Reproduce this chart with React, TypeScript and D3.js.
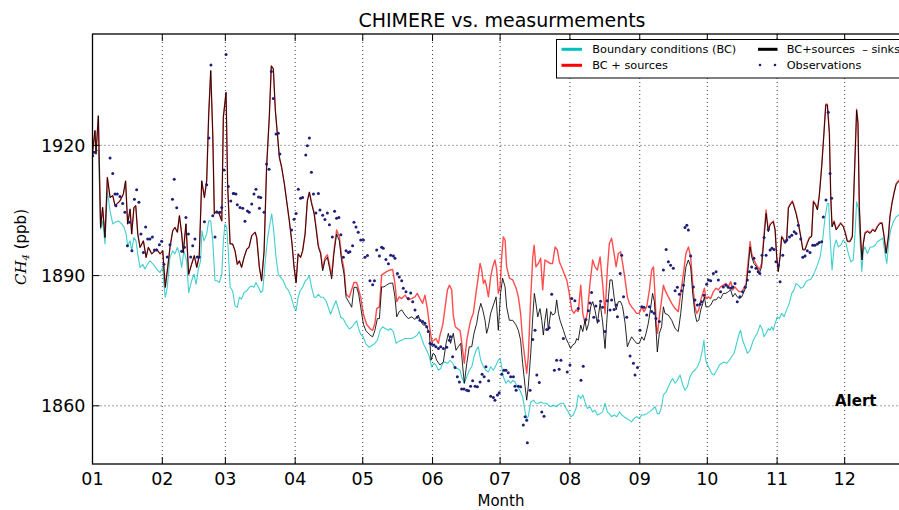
import React from "react";
import * as d3 from "d3";

type Pt = [number, number];

// day-of-year of each month start, and its label
const monthStarts = [0, 31, 59, 90, 120, 151, 181, 212, 243, 273, 304, 334];
const monthLabels = ["01", "02", "03", "04", "05", "06", "07", "08", "09", "10", "11", "12"];
const yTicks = [1860, 1890, 1920];

// Boundary conditions (BC)
const bcSeries: Pt[] = [
  [0,1917.6],[1.1,1918.5],[2.6,1919],[3.6,1900.7],[4.5,1902.6],[5.55,1897.3],[6.6,1909.5],[7.8,1904.9],[9,1901.9],[10,1902.3],[11.5,1902.6],[13,1901.9],[14,1901.1],[14.9,1899.6],[15.6,1896.9],[16.7,1898],[17.4,1895.7],[18.4,1898.8],[19.3,1898],[20.1,1895],[21.1,1891.9],[22.3,1892.6],[23.3,1891.5],[24.4,1892.6],[25.5,1893.4],[27,1892.6],[28.5,1891.5],[30,1890.7],[31.2,1891.9],[31.7,1888],[32.3,1885],[33.2,1887.3],[34.4,1894.2],[35.6,1895.7],[36.6,1895],[37.7,1896.5],[38.6,1895],[39.6,1891.9],[40.6,1895.7],[41.8,1893.4],[42.7,1886.1],[44,1888.8],[45.1,1890.3],[46,1888],[47,1891.5],[48,1893.4],[48.6,1900.3],[49.5,1898],[50.7,1899.6],[51.6,1902.6],[52.5,1902.6],[53.4,1898],[54.4,1888.8],[55.4,1888.8],[56.3,1888.4],[57.4,1890.3],[58.1,1898],[58.8,1901.9],[59.6,1901.1],[60.3,1895.7],[61.1,1887.3],
  [62.2,1886.5],[63.3,1883],[64.3,1882.7],[65.2,1885],[66.2,1884.6],[67.3,1886.1],[68.5,1886.5],[69.6,1887.3],[70.7,1887.6],[71.7,1887.3],[72.6,1888.4],[73.7,1887.3],[74.7,1886.1],[75.6,1886.5],[76.6,1892.6],[77.6,1898],[78.5,1901.1],[79.6,1904.2],[80.6,1899.6],[81.5,1894.2],[82.5,1890.3],[83.6,1889.6],[84.7,1888.8],[85.9,1887.3],[87.1,1886.5],[88.3,1885],[89.5,1882.7],[90.4,1881.9],[91.3,1885],[92.2,1886.5],[93.3,1887.3],[94.5,1888.8],[95.4,1889.2],[96.3,1890],[97.3,1887.3],[98.4,1885],[99.2,1885],[100.3,1885.7],[101.3,1885],[102.5,1885],[103.7,1884.2],[104.7,1882.7],[105.7,1881.1],[106.9,1882.7],[108.1,1884.2],[109.2,1882.3],[110.2,1880.4],[111.4,1880],[112.6,1878.8],[114,1877.7],[115.1,1878.1],[116.1,1878.8],[117.3,1879.6],[118.2,1877.7],[119.1,1876.5],[120.3,1875.8],[121.4,1874.2],[122.9,1873.5],
  [123.2,1873.6],[124.4,1874],[125.4,1874.4],[126.5,1875.1],[127.7,1877.4],[128.8,1878.2],[129.9,1877.8],[131.4,1877.4],[132.4,1877.8],[133.6,1877.1],[134.8,1874.4],[135.8,1874.8],[137.3,1875.1],[138.8,1875.5],[140.2,1875.5],[141.7,1875.5],[143.2,1875.9],[144.2,1876.3],[145.1,1877.1],[146.2,1875.5],[147.2,1874],[148.4,1872.8],[149.6,1871.3],[150.6,1869],[151.6,1869.8],[152.5,1869.4],[153.6,1868.2],[154.6,1868.6],[155.5,1869.8],[156.5,1870.1],[157.6,1869.8],[158.8,1870.5],[160,1869.8],[161,1868.6],[162,1868.6],[163.2,1868.2],[163.9,1866.7],[165.1,1865.2],[166.2,1866.7],[167.3,1868.2],[168.4,1869],[169.4,1871.3],[170.3,1872.8],[171.3,1873.6],[172.4,1870.5],[173.6,1869],[174.7,1868.2],[175.8,1867.8],[176.8,1869],[178,1868.2],[179.2,1869.4],[180.2,1870.5],[181,1870.9],[181.7,1869],[182.4,1866.7],[183.6,1865.2],[184.6,1865.9],[185.7,1865.2],[186.6,1865.9],[187.6,1865.5],
  [188.6,1864.4],[189.8,1863.6],[191,1862.1],[192.1,1858.6],[192.8,1857.1],[193.5,1857.5],[194.6,1860.9],[195.8,1861.3],[196.9,1860.6],[198,1860.6],[199,1860.9],[200.2,1860.6],[201.4,1860.6],[202.4,1860.2],[203.5,1859.8],[204.6,1860.2],[205.8,1859.8],[206.9,1860.2],[207.9,1860.6],[209.1,1860.6],[210.3,1859.4],[211.3,1858.6],[212.3,1857.5],[213.5,1857.9],[214.7,1859.4],[215.7,1862.5],[216.8,1861.7],[217.7,1862.5],[218.7,1860.9],[219.7,1859.4],[220.9,1859.8],[222.1,1858.6],[223.1,1859],[224.2,1857.9],[225.4,1858.2],[226.5,1858.6],[227.6,1860.6],[228.6,1858.6],[229.5,1858.2],[230.5,1857.5],[231.6,1857.9],[232.8,1857.5],[234,1858.6],[235,1857.9],[236,1857.5],[237.2,1857.1],[238.4,1856.7],[239.4,1856.3],[240.5,1857.1],[241.6,1857.5],[242.8,1857.1],[243.9,1857.9],[244.9,1857.9],[246.1,1858.2],[247.3,1858.6],[248.3,1859],[249.8,1859.8],
  [250.8,1858.2],[251.7,1858.2],[252.7,1859.8],[253.5,1862.5],[254.7,1863.2],[255.7,1864.4],[256.7,1865.5],[257.6,1866.3],[258.7,1865.2],[259.7,1865.9],[260.9,1867.1],[262.1,1864.8],[263.1,1863.6],[264.2,1864.4],[265.3,1866.7],[266.5,1867.8],[267.5,1868.2],[268.6,1869],[269.8,1870.5],[270.8,1872.8],[271.5,1875.1],[272.1,1871.3],[272.7,1869.8],[273.9,1868.6],[274.9,1867.5],[276,1867.1],[277.2,1868.2],[278.4,1869.4],[279.4,1869.8],[280.4,1870.1],[281.6,1869.8],[282.8,1870.5],[283.8,1871.3],[284.9,1872.1],[286,1874.4],[287.2,1876.7],[287.8,1877.4],[288.7,1875.1],[289.8,1873.6],[290.8,1872.1],[292,1872.8],[293.2,1874.8],[294.2,1875.9],[295.2,1876.7],[296.4,1878.6],[297.3,1877.8],[298.2,1875.9],[299.1,1876.7],[300.1,1877.8],
  [300.8,1877.4],[301.6,1878.2],[302.3,1877.4],[303.1,1879],[304.1,1880.5],[305,1880.1],[306,1881.3],[307.1,1880.5],[308.2,1882.1],[309.4,1883.6],[310.5,1885.9],[311.5,1886.7],[312.4,1888.2],[313.4,1887.8],[314.5,1887.1],[315.6,1887.4],[316.8,1888.6],[317.9,1889],[318.9,1889.1],[320.1,1890.1],[321.6,1892],[323.1,1894.3],[324.2,1898.2],[325.3,1903.5],[326.3,1906.6],[326.9,1906.6],[327.5,1898.9],[328.4,1891.3],[329.3,1896.6],[330.2,1898.2],[331.2,1896.6],[332.2,1897],[333.4,1898.2],[334.6,1897.4],[335.6,1895.1],[336.7,1893.2],[337.8,1893.6],[338.6,1899.7],[339.3,1907],[340.1,1905.5],[340.8,1898.2],[341.6,1890.9],[342.3,1895.9],[343,1896.6],[344.1,1895.1],[345.3,1896.6],[346.4,1896.6],[347.5,1897],[348.5,1897.8],[349.7,1898.2],[350.9,1898.6],[351.9,1895.1],[352.7,1892.8],[353.5,1897.4],[354.4,1900.5],[355.6,1902.4],[356.8,1903.5],[357.8,1903.9],[359,1904.2],[362,1904.5],
];

// BC + sources
const srcSeries: Pt[] = [
  [0,1918.4],[1.1,1923.4],[1.55,1918],[2.6,1926.8],[3.6,1901.1],[4.5,1905.7],[5.55,1898.8],[6.6,1912.6],[7.8,1908],[9,1908.4],[10,1906.1],[12.2,1907.2],[13.7,1908.8],[14.7,1911.8],[15.6,1901.9],[16.7,1905.3],[17.4,1899.6],[18.4,1905.7],[19.2,1906.1],[20.1,1899.6],[21.1,1896.5],[22.6,1898],[23.8,1894.2],[24.8,1896.5],[26.3,1895],[28.5,1896.1],[30,1895],[31.2,1895.7],[32.3,1887.3],[33.4,1891.9],[34.4,1896.5],[35.6,1900.3],[36.6,1901.1],[37.7,1900],[38.6,1903.8],[39.6,1899.6],[40.3,1895.3],[41.5,1901.9],[42.7,1890.3],[44,1892.6],[45.2,1894.6],[46.3,1891.9],[47.4,1894.6],[48.5,1911.8],[49.7,1908],[50.7,1911.8],[51.6,1927.2],[52.5,1937.2],[53.4,1922.6],[54.1,1904.2],[55.1,1904.9],[56.3,1904.2],[57.4,1902.6],[58.1,1926.5],[59.3,1932.2],[60,1911.1],[61.1,1897.3],
  [62.2,1897.3],[63.3,1895.7],[64.3,1892.6],[65.2,1893.4],[66.2,1891.9],[67.3,1894.2],[68.5,1896.1],[69.5,1896.5],[70.7,1899.2],[72.2,1900],[72.9,1898.8],[74.1,1891.9],[75.1,1888.8],[76.2,1895.7],[77.3,1914.9],[78.5,1926.5],[79.4,1938.3],[80.3,1937.6],[81.2,1928],[82.1,1922.6],[83,1917.2],[84,1914.9],[85.2,1911.1],[86.2,1907.2],[87.4,1902.6],[88.6,1897.3],[89.5,1891.9],[90.4,1888.4],[91.3,1895],[92.4,1894.2],[93.3,1895.7],[94.4,1899.6],[95.4,1907.2],[96.3,1909.2],[97.3,1906.8],[98.4,1904.6],[99.2,1901.5],[100.3,1896.9],[101.3,1895.4],[102.2,1891.6],[103.2,1894],[104.3,1894.8],[105.2,1892.6],[106.2,1890],[107.2,1895.8],[108.4,1900.5],[109.6,1899],[110.6,1894.5],[111.7,1891.5],[112.6,1885.7],[114,1885],[116.1,1888.4],[117.3,1888.4],[119.1,1885],[120.3,1881.1],[121.7,1878.8],[123.2,1877.8],
  [124.4,1877.4],[125.4,1879],[126.2,1882.4],[127.4,1882.8],[128.4,1890.1],[129.4,1890.5],[130.6,1890.9],[132.1,1891.3],[133.3,1891.4],[134.3,1888.2],[135.1,1884],[136.2,1885.1],[137.3,1884.7],[138.8,1885.5],[140.2,1884.4],[141.7,1884.7],[143.2,1885.1],[144.2,1885.9],[145.4,1884.7],[146.6,1883.6],[147.6,1885.5],[148.7,1882.4],[149.9,1877.4],[150.7,1874.8],[151.6,1875.1],[152.5,1875.5],[153.6,1874.4],[154.3,1876.3],[155.5,1878.6],[156.5,1882.4],[157.6,1886.7],[158.5,1887.8],[159.5,1886.7],[160.2,1880.9],[161.1,1878.2],[162,1877.8],[163.2,1877.4],[163.9,1874.8],[165.1,1869.8],[166.2,1875.1],[167,1877.4],[167.9,1879.7],[169.1,1881.3],[170.3,1886],[171.3,1889.7],[172.1,1892.8],[172.8,1891.3],[173.6,1888.2],[174.3,1889],[175,1887.4],[175.8,1885.1],[176.8,1889.7],[177.7,1892],[178.7,1893.6],[179.5,1891.3],[180.2,1885.9],[181,1887.4],[181.7,1894.3],[182.4,1898.9],[183.2,1898.2],[183.9,1892],[185.1,1889.4],[186.6,1889],
  [188.1,1887.1],[189.1,1885.1],[190.1,1881.3],[191,1875.1],[192.1,1870.5],[192.8,1867.5],[193.5,1871.3],[194.6,1885.1],[195.5,1894.3],[196.1,1897],[196.9,1892],[198,1892.8],[199,1894],[199.9,1886.7],[200.9,1893.6],[202,1893.2],[203.2,1892.8],[204.3,1892.8],[205.4,1896.6],[206.4,1895.9],[207.3,1893.2],[208.3,1892],[209.4,1890.5],[210.6,1889],[211.7,1885.9],[212.8,1882.1],[213.8,1881.3],[214.7,1882.1],[215.7,1881.7],[216.8,1887.8],[217.7,1881.3],[218.7,1879],[219.7,1881.3],[220.9,1888.2],[222.1,1893.6],[223.1,1892],[224.2,1891.3],[225.4,1894.3],[226.5,1888.2],[227.6,1881.3],[228.6,1891.3],[229.5,1897.4],[230.5,1898.6],[231.6,1895.1],[232.5,1892],[233.5,1895.1],[234.5,1895.5],[235.4,1892.8],[236.5,1889],[237.5,1885.1],[238.4,1883.6],[239.4,1882.8],[240.5,1882.1],[241.6,1881.3],[242.8,1881.3],[243.9,1882.8],[244.9,1881.7],[246.1,1882.8],[247.3,1886.7],[248.3,1891.3],[249.1,1892],[249.8,1885.1],
  [250.4,1878.2],[250.9,1876.7],[251.7,1880.5],[252.7,1884.4],[253.5,1887.8],[254.2,1886.7],[255.7,1885.1],[257.2,1883.6],[258.7,1882.4],[260.1,1881.7],[261.2,1885.9],[262.4,1890.5],[263.5,1895.1],[264.6,1896.6],[265.6,1894.3],[266.5,1888.2],[267.5,1882.8],[268.3,1881.3],[269.2,1882.1],[270.1,1884.4],[271,1885.9],[271.7,1887.1],[272.4,1884.7],[273.5,1885.1],[274.5,1884.7],[275.7,1886.3],[276.9,1887.1],[277.9,1886.7],[278.9,1887.4],[280.1,1887.8],[281.3,1888.2],[282.3,1887.4],[283.4,1888.6],[284.3,1886.7],[285.3,1887.4],[286.3,1886.7],[287.2,1886.3],[288.3,1886.3],[289.3,1887.1],[290.2,1888.2],[291.2,1893.6],[292,1897.8],[292.7,1895.1],[293.7,1893.6],[294.9,1892.4],[296.1,1891.3],[297.1,1892.8],[298.2,1899.7],[299.1,1905.1],[300.1,1900.3],
  [300.8,1901.8],[301.6,1902.2],[302.3,1902.6],[303.1,1900.7],[303.8,1894.5],[304.5,1891.1],[305.3,1894.5],[306,1899.1],[306.8,1898.4],[307.5,1897.6],[308.2,1898],[309,1905.7],[309.7,1906.4],[310.8,1907.2],[311.5,1906.1],[312.4,1904.5],[313.4,1902.2],[314.5,1899.1],[315.4,1896.1],[316.4,1896.1],[317.4,1897.6],[318.3,1898.8],[319.3,1899.1],[320.1,1907.2],[321.1,1906.4],[321.9,1905.3],[322.7,1908.4],[323.8,1915.3],[324.8,1923],[325.6,1929.5],[326.3,1929.5],[327.2,1923],[327.8,1908.4],[328.4,1901.4],[329.3,1902.6],[330.2,1900.7],[331.2,1901.4],[332.2,1902.2],[333.4,1901.4],[334.3,1899.9],[335.2,1898],[336.4,1898],[337.4,1899.1],[338.1,1909.9],[338.7,1919.1],[339.3,1928.3],[339.9,1925.3],[340.5,1906.1],[341.1,1898.4],[341.7,1893.8],[342.3,1897.6],[343,1899.9],[344.1,1900.3],[345.3,1899.9],[346.4,1900.7],[347.5,1900.3],[348.5,1901.4],[349.7,1902.2],[350.6,1902.2],[351.5,1899.1],[352.4,1895.3],[353.4,1899.1],[354.1,1903.7],[355,1906.8],[355.9,1909.1],[356.8,1911.1],[357.8,1911.8],[359,1912.4],[362,1913.2],
];

// BC + sources - sinks
const netSeries: Pt[] = [
  [0,1918.4],[1.1,1923.4],[1.55,1918],[2.6,1926.8],[3.6,1901.1],[4.5,1905.7],[5.55,1898.8],[6.6,1912.6],[7.8,1908],[9,1908.4],[10,1906.1],[12.2,1907.2],[13.7,1908.8],[14.7,1911.8],[15.6,1901.9],[16.7,1905.3],[17.4,1899.6],[18.4,1905.7],[19.2,1906.1],[20.1,1899.6],[21.1,1896.5],[22.6,1898],[23.8,1894.2],[24.8,1896.5],[26.3,1895],[28.5,1896.1],[30,1895],[31.2,1895.7],[32.3,1887.3],[33.4,1891.9],[34.4,1896.5],[35.6,1900.3],[36.6,1901.1],[37.7,1900],[38.6,1903.8],[39.6,1899.6],[40.3,1895.3],[41.5,1901.9],[42.7,1890.3],[44,1892.6],[45.2,1894.6],[46.3,1891.9],[47.4,1894.6],[48.5,1911.8],[49.7,1908],[50.7,1911.8],[51.6,1927.2],[52.5,1937.2],[53.4,1922.6],[54.1,1904.2],[55.1,1904.9],[56.3,1904.2],[57.4,1902.6],[58.1,1926.5],[59.3,1932.2],[60,1911.1],[61.1,1897.3],
  [62.2,1897.3],[63.3,1895.7],[64.3,1892.6],[65.2,1893.4],[66.2,1891.9],[67.3,1894.2],[68.5,1896.1],[69.5,1896.5],[70.7,1899.2],[72.2,1900],[72.9,1898.8],[74.1,1891.9],[75.1,1888.8],[76.2,1895.7],[77.3,1914.9],[78.5,1926.5],[79.4,1938.3],[80.3,1937.6],[81.2,1928],[82.1,1922.6],[83,1917.2],[84,1914.9],[85.2,1911.1],[86.2,1907.2],[87.4,1902.6],[88.6,1897.3],[89.5,1891.9],[90.4,1888.4],[91.3,1895],[92.4,1894.2],[93.3,1895.7],[94.4,1899.6],[95.4,1907.2],[96.3,1909.2],[97.3,1906.5],[98.4,1904.2],[99.2,1901.1],[100.3,1896.5],[101.3,1895],[102.2,1891.1],[103.2,1893.4],[104.3,1894.2],[105.2,1891.9],[106.2,1889.2],[107.2,1895],[108.4,1899.6],[109.6,1898],[110.6,1893.4],[111.7,1890.3],[112.6,1885],[114,1883.8],[115.1,1882.7],[116.1,1887.3],[117.3,1887.3],[118.2,1885.7],[119.1,1882.7],[120.3,1878.8],[121.4,1877.3],[122.9,1876.5],
  [123.2,1876.3],[124.4,1875.9],[125.4,1877.4],[126.5,1880.1],[127.4,1880.1],[128.4,1887.4],[129.4,1887.4],[130.6,1887.8],[131.8,1888.2],[133.3,1888.3],[134.3,1885.1],[135.1,1880.5],[136.2,1881.7],[137.3,1882.1],[138.8,1880.9],[140.2,1880.1],[141.7,1880.5],[143.2,1879.9],[144.7,1880.9],[145.4,1879.7],[146.9,1878.6],[148.1,1878.6],[149.6,1876.7],[150.3,1870.5],[151.3,1872.1],[152.1,1871.7],[152.8,1870.5],[154.3,1869.4],[155.8,1870.1],[157,1874.4],[158,1876.7],[159,1874.4],[160.2,1876.7],[161.4,1872.8],[162.4,1873.6],[163.5,1874.4],[164.4,1869],[165.1,1865.2],[166.2,1869.8],[167.3,1873.6],[168.4,1873.6],[169.4,1876.7],[170.6,1879],[171.3,1881.3],[172.4,1883.6],[173.3,1882.1],[174.3,1879.7],[175,1876.7],[175.8,1878.2],[176.8,1881.3],[178,1883.2],[179.2,1885.1],[180.2,1877.4],[181.2,1885.9],[182.1,1889.4],[183.2,1887.4],[183.9,1882.8],[185.1,1879.7],[186.6,1879.7],
  [188.1,1878.6],[189.1,1877.4],[190.1,1875.1],[191,1869.8],[192.1,1864.4],[192.8,1861.3],[193.5,1864.4],[194.6,1872.1],[195.5,1880.5],[196.2,1885.9],[196.9,1883.6],[197.7,1880.5],[198.7,1882.4],[199.5,1879.7],[200.2,1876.3],[200.9,1879.7],[201.7,1882.4],[202.4,1877.4],[203.5,1881.7],[204.3,1880.9],[205.4,1881.3],[206.1,1884.4],[206.9,1881.3],[207.6,1879.7],[209.1,1877.4],[210.3,1875.5],[211.3,1874.4],[212.3,1873.2],[213.2,1874],[214.3,1874.4],[215,1875.5],[215.7,1875.1],[216.8,1878.6],[217.7,1877.1],[218.7,1879.7],[219.4,1877.4],[220.3,1879],[221.2,1882.8],[222.1,1884],[223.1,1882.1],[224.2,1879],[225.4,1883.6],[226.5,1879.4],[227.6,1873.2],[228.3,1879],[229.1,1885.1],[229.8,1889],[230.7,1889],[231.6,1885.1],[232.5,1882.1],[233.5,1884],[234.5,1884],[235.4,1882.8],[236.5,1879],[237.5,1873.6],[238.4,1874.8],[239.4,1875.9],[240.5,1875.1],[241.6,1874.4],[242.8,1874.4],[243.9,1875.9],[244.9,1875.1],[245.8,1876.7],[246.8,1879],[247.9,1882.8],[248.7,1885.9],[249.5,1884],
  [250.2,1878],[250.8,1872.4],[251.7,1876.7],[252.7,1878.2],[253.5,1882.8],[254.2,1881.3],[255.7,1880.9],[257.2,1879.7],[258.7,1877.8],[260.1,1877.1],[261.2,1881.3],[262.4,1887.4],[263.5,1892],[264.6,1893.6],[265.6,1892],[266.5,1885.9],[267.5,1881.3],[268.3,1879.4],[269.2,1879.7],[270.1,1882.1],[271,1883.6],[271.7,1885.1],[272.4,1882.8],[273.5,1882.8],[274.5,1883.2],[275.7,1884.4],[276.9,1884.4],[277.9,1885.1],[278.9,1884.7],[280.1,1885.9],[281.3,1885.9],[282.3,1886.3],[283.4,1886.7],[284.3,1885.1],[285.3,1885.9],[286.3,1885.1],[287.2,1884.7],[288.3,1885.1],[289.3,1886.3],[290.2,1887.4],[291.2,1892],[292,1896.6],[292.7,1894.3],[293.7,1892.8],[294.9,1892],[296.1,1890.5],[297.1,1892],[298.2,1898.6],[299.1,1904.3],[300.1,1900.1],
  [300.8,1901.6],[301.6,1902],[302.3,1902.4],[303.1,1900.5],[303.8,1894.3],[304.5,1890.9],[305.3,1894.3],[306,1898.9],[306.8,1898.2],[307.5,1897.4],[308.2,1897.8],[309,1905.5],[309.7,1906.2],[310.8,1907],[311.5,1905.9],[312.4,1904.3],[313.4,1902],[314.5,1898.9],[315.4,1895.9],[316.4,1895.9],[317.4,1897.4],[318.3,1898.6],[319.3,1898.9],[320.1,1907],[321.1,1906.2],[321.9,1905.1],[322.7,1908.2],[323.8,1915.1],[324.8,1922.8],[325.6,1929.3],[326.3,1929.3],[327.2,1922.8],[327.8,1908.2],[328.4,1901.2],[329.3,1902.4],[330.2,1900.5],[331.2,1901.2],[332.2,1902],[333.4,1901.2],[334.3,1899.7],[335.2,1897.8],[336.4,1897.8],[337.4,1898.9],[338.1,1909.7],[338.7,1918.9],[339.3,1928.1],[339.9,1925.1],[340.5,1905.9],[341.1,1898.2],[341.7,1893.6],[342.3,1897.4],[343,1899.7],[344.1,1900.1],[345.3,1899.7],[346.4,1900.5],[347.5,1900.1],[348.5,1901.2],[349.7,1902],[350.6,1902],[351.5,1898.9],[352.4,1895.1],[353.4,1898.9],[354.1,1903.5],[355,1906.6],[355.9,1908.9],[356.8,1910.9],[357.8,1911.6],[359,1912.2],[362,1913],
];

// Observations
const obsPoints: Pt[] = [
  [0.07,1917.6],[0.67,1918.4],[7.8,1917.1],[9,1913.5],[10,1908.8],[11,1908.8],[12.2,1908.2],[10.4,1906.1],[13.4,1906.6],[14.4,1904.6],[15.5,1896.9],[16.4,1902.3],[17.5,1895.7],[18.6,1907.6],[19.6,1909.8],[20.6,1906.9],[21.5,1899.6],[22.6,1895.3],[23.6,1901.2],[24.5,1898.4],[25.5,1898.4],[26.6,1898.9],[27.5,1895.9],[28.5,1895.9],[29.7,1897.1],[30.7,1897.9],[31.7,1892.6],[33.2,1894.3],[34.4,1897.1],[35.5,1907.6],[36.3,1912.2],[37.4,1905.6],[39.6,1895.6],[40.8,1896.5],[41.5,1903.4],[42.6,1899.6],[43.6,1894.3],[44.5,1896.9],[45.5,1898.4],[46.5,1894.3],[47.4,1894.3],[49.7,1902.4],[50.7,1910.9],[51.7,1921.7],[52.6,1938.5],[53.4,1903.8],[54.4,1898.9],[55.4,1904.6],[56.6,1904.6],[57.4,1905.7],[58.4,1914.3],[59.3,1940.9],[60.3,1910.5],[62.5,1908.9],
  [61.4,1907.2],[62.8,1908.9],[63.7,1908.8],[64.3,1906.3],[65.5,1905.7],[66.7,1905.5],[67.7,1902.5],[68.8,1904.9],[69.6,1904.6],[70.7,1906.5],[71.7,1908.8],[72.6,1909.9],[73.7,1908.1],[74.7,1908],[74.1,1905.5],[76.2,1904.6],[77.3,1915.7],[78.4,1914.5],[79.4,1937],[80.3,1930.8],[81.5,1922.6],[82.5,1922.8],[83.2,1918],[88.4,1900.5],[89.5,1903],[90.4,1904.3],[91.4,1909.9],[92.4,1907.8],[93.3,1908],[94.7,1917.8],[95.4,1919.9],[96.3,1921.7],[97.2,1913.8],[98.1,1908.8],[99.2,1904.4],[100.3,1908.9],[101,1905.1],[102.2,1903.9],[103.2,1902.9],[104.3,1904.4],[105.2,1901.7],[106.5,1898.9],[107.5,1904.8],[108.4,1903.2],[109.4,1903.4],[110.3,1899.4],[111.4,1894.2],[112.6,1895.7],[113.6,1895.3],[114.3,1895.5],[115.5,1896.9],[116.1,1902.3],[117,1901.2],[118,1900],[119.1,1898.2],[120.3,1898.2],[121,1894.2],[122.1,1894.6],[123.2,1888.8],[124.4,1887.9],[125.2,1888.8],
  [126.2,1895.9],[127.4,1894.5],[128.4,1896.5],[129.1,1896.3],[130.3,1893.7],[131.4,1892.7],[132.4,1894.7],[133.6,1894.5],[134.3,1894],[135.4,1890.5],[136.2,1889.7],[137.3,1888.8],[138,1887.1],[139.2,1886.3],[140.2,1884.7],[141.3,1886],[142.2,1884],[143.2,1882.1],[144.2,1880.4],[145.4,1879.7],[146.6,1879.4],[147.6,1879],[148.4,1878.2],[149.1,1877.1],[149.9,1874.4],[150.6,1874.2],[151.6,1874],[152.5,1873.6],[153.6,1873.2],[154.6,1873.6],[155.8,1873.2],[157.3,1873.5],[158.5,1875.1],[159,1875.9],[159.9,1871.3],[161,1868.8],[162,1866.7],[162.9,1865.5],[163.9,1863.9],[165,1863.9],[166.2,1863.6],[167,1863.5],[167.9,1864.5],[168.8,1865.8],[169.9,1864.5],[170.9,1864.4],[172.1,1865.5],[173,1867.3],[173.9,1866.7],[174.7,1869],[175.9,1865.8],[176.8,1862.2],[178,1861.9],[178.7,1861.3],[179.8,1862.5],[180.6,1863],[181.7,1867.3],[182.7,1868.2],[183.6,1868.2],[184.6,1867.6],[185.7,1866.7],[186.9,1866.7],[187.6,1864.5],
  [188.1,1863.6],[189.1,1864.5],[190.1,1864.4],[191.3,1855.6],[192.1,1857.5],[192.8,1856.7],[193.1,1851.5],[194.3,1863.6],[195.5,1875.3],[196.5,1877.4],[197.3,1867.1],[198.4,1865.4],[199.5,1858.6],[200.5,1857.6],[201.7,1877.6],[202.8,1878],[203.9,1885.7],[205.1,1868.2],[206.1,1870.5],[207.2,1868.4],[208,1870.5],[209.1,1875.5],[210.8,1867.8],[212,1869.4],[212.8,1884.7],[214.2,1884.2],[215.7,1882.4],[216.9,1865.9],[217.9,1869.1],[219.1,1879.9],[220.2,1881.9],[220.9,1883.7],[221.6,1886.1],[222.6,1880.4],[223.5,1883],[224.6,1879.6],[225.6,1884.1],[226.5,1882.7],[227.6,1877.1],[228.6,1884.2],[229.8,1882.1],[230.5,1884.4],[231.6,1882.2],[232.5,1883.2],[233.1,1880.5],[234.3,1890.5],[235,1894.7],[235.8,1885.1],[237.2,1880.4],[238.7,1871.5],[240.2,1869.8],[240.9,1867.1],[242,1868.8],[243.1,1877.4],[243.9,1882.8],[244.9,1882.7],[246.1,1880.9],[247.3,1882.8],[248.3,1881.7],
  [249.4,1881.3],[250.2,1880.1],[251.7,1879.4],[253.5,1891.3],[254.7,1896],[255.7,1893.2],[256.7,1892.4],[257.9,1891.7],[258.7,1886.5],[259.7,1887.3],[260.6,1885.7],[261.6,1886.5],[262.4,1887.8],[263.1,1901.1],[263.9,1901.6],[264.6,1900.5],[265.6,1894.5],[266.8,1887.4],[267.5,1884.4],[268.6,1883.2],[269.8,1883.4],[270.5,1884],[271.5,1885.5],[272.7,1888],[273.5,1889],[274.5,1888.8],[275.7,1890.5],[276.9,1890.9],[277.9,1889],[278.9,1886.3],[280.1,1887.4],[281.3,1887.8],[282.3,1887.3],[283.4,1887.1],[284.3,1887.4],[285.3,1888.2],[286.3,1884],[287.5,1885.1],[288.7,1886.3],[289.8,1887.3],[290.8,1889],[291.7,1890.9],[292.7,1892],[293.7,1894],[294.6,1891.7],[295.6,1890.9],[296.3,1890.5],[297.3,1894.7],[298.2,1898.8],[299.1,1894.7],[300.1,1900.6],[300.9,1895.9],[301.7,1896.3],[302.6,1896],[303.5,1893.2],[304.6,1892.4],[305.3,1888.6],[306.5,1894.7],[307.5,1897.8],[308.3,1898.2],[309.5,1898.9],[310.5,1899.3],[311.6,1900.1],[312.4,1899.7],[313.4,1901.6],
  [314.5,1898.4],[315.4,1894.2],[316.4,1894.5],[317.4,1895.7],[318.6,1895.3],[319.8,1897],[320.8,1897],[321.9,1897.3],[322.7,1897.6],[323.8,1897.8],[324.5,1903.5],[325.7,1907.4],[326.7,1927.6],[327.5,1913.5],[328.2,1907.8],
];

const W = 899;
const H = 510;
const LEFT = 92.5;
const TOP = 34;
const BOTTOM = 464;
const RIGHT = 914.5;

export default function App() {
  const x = d3.scaleLinear().domain([0, 365]).range([LEFT, RIGHT]);
  const y = d3.scaleLinear().domain([1846.6, 1945.65]).range([BOTTOM, TOP]);
  const line = d3
    .line<Pt>()
    .x((d) => x(d[0]))
    .y((d) => y(d[1]));

  const font = "'DejaVu Sans', sans-serif";

  return (
    <svg
      width={W}
      height={H}
      viewBox={`0 0 ${W} ${H}`}
      style={{ position: "absolute", left: 0, top: 0, display: "block", background: "#fff" }}
    >
      <defs>
        <clipPath id="plotClip">
          <rect x={LEFT} y={TOP} width={RIGHT - LEFT} height={BOTTOM - TOP} />
        </clipPath>
      </defs>
      <rect x={0} y={0} width={W} height={H} fill="#fff" />

      {/* grid */}
      <g stroke="#000" strokeOpacity={0.75} strokeWidth={1} strokeDasharray="1,3">
        {monthStarts.slice(1).map((m) => (
          <line key={"gx" + m} x1={x(m)} x2={x(m)} y1={TOP} y2={BOTTOM} />
        ))}
        {yTicks.map((t) => (
          <line key={"gy" + t} x1={LEFT} x2={RIGHT} y1={y(t)} y2={y(t)} />
        ))}
      </g>

      {/* series */}
      <g clipPath="url(#plotClip)" fill="none" strokeLinejoin="round">
        <path d={line(bcSeries) || ""} stroke="#00bfbf" strokeOpacity={0.75} strokeWidth={1.1} />
        <path d={line(srcSeries) || ""} stroke="#ff0000" strokeOpacity={0.7} strokeWidth={1.4} />
        <path d={line(netSeries) || ""} stroke="#000" strokeOpacity={0.85} strokeWidth={1} />
        <g fill="#1e1e78" stroke="none">
          {obsPoints.map((p, i) => (
            <circle key={i} cx={x(p[0])} cy={y(p[1])} r={1.5} />
          ))}
        </g>
      </g>

      {/* frame */}
      <rect x={LEFT} y={TOP} width={RIGHT - LEFT} height={BOTTOM - TOP} fill="none" stroke="#000" strokeWidth={1.3} />

      {/* ticks */}
      <g stroke="#000" strokeWidth={1}>
        {monthStarts.map((m) => (
          <g key={"t" + m}>
            <line x1={x(m)} x2={x(m)} y1={BOTTOM} y2={BOTTOM - 7} />
            <line x1={x(m)} x2={x(m)} y1={TOP} y2={TOP + 7} />
          </g>
        ))}
        {yTicks.map((t) => (
          <line key={"ty" + t} x1={LEFT} x2={LEFT + 7} y1={y(t)} y2={y(t)} />
        ))}
      </g>

      {/* tick labels */}
      <g fontFamily={font} fontSize={17.5} fill="#000">
        {monthStarts.map((m, i) => (
          <text key={"lx" + m} x={x(m)} y={485} textAnchor="middle">
            {monthLabels[i]}
          </text>
        ))}
        {yTicks.map((t) => (
          <text key={"ly" + t} x={LEFT - 7} y={y(t) + 6.5} textAnchor="end">
            {t}
          </text>
        ))}
      </g>

      {/* title and axis labels */}
      <text x={502} y={27} textAnchor="middle" fontFamily={font} fontSize={19} fill="#000">
        CHIMERE vs. measurmements
      </text>
      <text x={501} y={506} textAnchor="middle" fontFamily={font} fontSize={15} fill="#000">
        Month
      </text>
      <text
        transform="translate(26,247) rotate(-90)"
        textAnchor="middle"
        fontFamily={font}
        fontSize={15}
        fill="#000"
      >
        <tspan fontFamily="'DejaVu Serif', serif" fontStyle="italic">CH</tspan>
        <tspan fontFamily="'DejaVu Serif', serif" fontStyle="italic" fontSize={10} dy={3}>4</tspan>
        <tspan dy={-3}>{"  (ppb)"}</tspan>
      </text>

      <text x={835} y={406} fontFamily={font} fontSize={15} fontWeight="bold" fill="#000">
        Alert
      </text>

      {/* legend */}
      <g fontFamily={font} fontSize={11.3} fill="#000">
        <rect x={556.5} y={39.5} width={400} height={38.5} fill="#fff" stroke="#000" strokeWidth={1} />
        <line x1={561.5} x2={582} y1={49.3} y2={49.3} stroke="#00bfbf" strokeWidth={3} />
        <text x={592.3} y={53}>Boundary conditions (BC)</text>
        <line x1={561.5} x2={582} y1={65.3} y2={65.3} stroke="#ff0000" strokeWidth={3} />
        <text x={592.3} y={69}>BC + sources</text>
        <line x1={758} x2={777.5} y1={49.3} y2={49.3} stroke="#000" strokeWidth={3} />
        <text x={786.7} y={53} xmlSpace="preserve" style={{ whiteSpace: "pre" }}>
          {"BC+sources  \u2013 sinks"}
        </text>
        <circle cx={760} cy={65} r={1.3} fill="#1e1e78" />
        <circle cx={775} cy={65} r={1.3} fill="#1e1e78" />
        <text x={786.7} y={69}>Observations</text>
      </g>
    </svg>
  );
}
